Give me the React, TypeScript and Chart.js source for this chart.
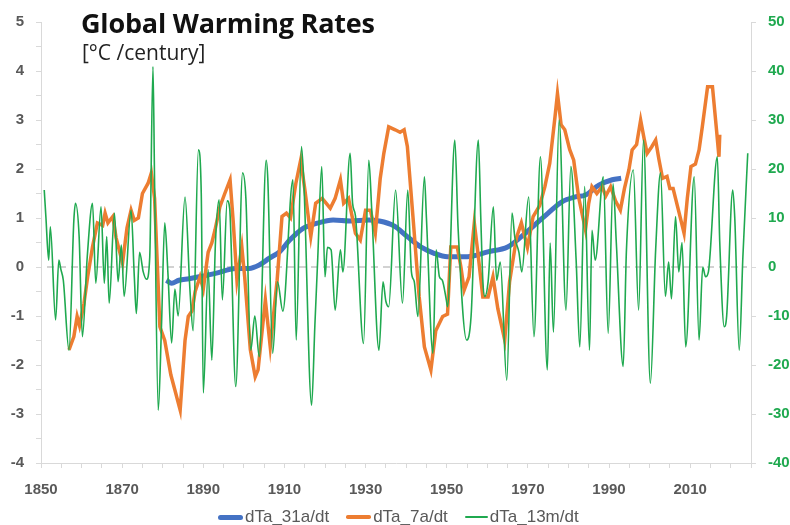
import React, { useEffect, useRef } from "react";
import { Chart, registerables } from "chart.js";

Chart.register(...registerables);

// dTa_13m/dt (right axis) – turning points
const greenYears = [
  1850.8, 1851.2, 1851.9, 1852.3, 1853.6, 1854.4, 1854.9, 1855.5, 1856.9, 1858.1,
  1858.5, 1859.4, 1860.2, 1861.4, 1862.7, 1863.5, 1864.8, 1865.6, 1866.2, 1866.8,
  1868.1, 1869.0, 1869.8, 1870.5, 1872.2, 1873.0, 1873.5, 1874.3, 1875.2, 1876.0,
  1876.8, 1877.6, 1878.0, 1878.9, 1879.7, 1880.5, 1881.3, 1882.2, 1883.0, 1883.8,
  1885.5, 1886.7, 1887.5, 1888.8, 1889.5, 1890.0, 1891.2, 1892.1, 1893.0, 1893.9,
  1894.7, 1895.9, 1896.5, 1898.0, 1899.7, 1900.5, 1901.7, 1902.7, 1903.8, 1905.5,
  1905.9, 1907.1, 1908.3, 1909.6, 1912.1, 1912.9, 1914.2, 1914.8, 1916.7, 1917.5,
  1918.2, 1919.2, 1920.0, 1920.6, 1921.5, 1922.5, 1923.8, 1924.4, 1926.2, 1926.8,
  1927.5, 1929.5, 1930.8, 1931.5, 1933.3, 1934.3, 1935.0, 1935.7, 1937.4, 1939.1,
  1940.4, 1941.3, 1942.0, 1942.9, 1944.5, 1945.0, 1946.6, 1947.4, 1948.2, 1948.9,
  1949.9, 1950.2, 1952.0, 1952.8, 1954.9, 1956.0, 1957.8, 1958.4, 1958.9, 1959.4,
  1960.2, 1961.5, 1962.3, 1963.2, 1964.8, 1966.1, 1966.8, 1967.8, 1968.5, 1970.2,
  1971.5, 1973.1, 1974.8, 1975.5, 1976.3, 1977.7, 1979.4, 1980.6, 1981.9, 1982.8,
  1984.0, 1985.2, 1985.8, 1986.6, 1988.6, 1989.8, 1991.0, 1991.8, 1993.5, 1994.3,
  1996.0, 1997.3, 1998.5, 2000.2, 2001.5, 2002.7, 2003.9, 2004.7, 2005.4, 2006.4,
  2007.2, 2008.0, 2008.9, 2011.0, 2012.2, 2013.1, 2013.8, 2014.5, 2016.7, 2017.3,
  2018.4, 2019.0, 2020.5, 2021.0, 2022.1, 2023.0, 2024.2,
];
const greenValues = [
  15.7, 10.3, 1.4, 8.2, -10.8, 1.4, -0.5, -2.7, -17.0, 9.6,
  13.0, 6.2, -14.2, 2.1, 13.0, -3.3, 12.3, -3.3, 6.2, -7.4,
  11.0, -3.0, 4.5, -6.0, 11.6, -2.0, -9.5, 3.0, -1.0, -2.5,
  2.0, 40.9, 17.0, -29.2, -12.0, 9.0, -1.5, -15.5, -4.5, -10.0,
  14.3, -4.5, -13.0, 23.9, 15.0, -25.7, -0.5, -19.0, 5.0, 13.7,
  -6.7, 13.5, 12.0, -24.4, 19.2, 14.0, -17.0, -10.0, -18.3, 21.8,
  18.0, -17.6, -3.0, -9.0, 17.8, -14.9, 24.6, 17.0, -28.2, -12.0,
  1.5, 20.5, -2.0, 4.0, 3.5, -8.8, 3.5, -1.0, 23.2, 13.0,
  10.5, -15.6, 21.8, 12.0, -17.0, -3.0, -7.0, -8.1, 15.7, -7.4,
  15.7, -1.0, -3.0, -10.1, 18.4, 10.0, -17.6, 3.5, -2.0, -2.7,
  -6.7, -8.1, 25.9, 8.0, -14.9, -10.1, 25.9, 10.0, -2.7, -6.0,
  -3.0, 12.3, -2.7, 1.0, -23.1, 11.0, 6.0, 3.0, -1.0, 14.3,
  -14.2, 22.5, -21.0, 4.9, -13.3, 30.0, -8.8, 20.5, 1.4, -16.3,
  16.4, -17.0, 7.5, 1.4, 18.4, -13.5, 17.0, 5.0, -20.3, 3.5,
  19.8, -8.8, 25.9, -23.7, 3.5, 19.2, -6.0, 1.0, -6.5, 10.3,
  -1.0, 5.0, -16.3, 18.4, -14.9, 0.0, -2.0, -1.0, 22.5, 5.0,
  -12.2, -10.0, 15.7, 10.0, -17.0, 2.1, 23.2,
];

// dTa_7a/dt (left axis)
const orangeYears = [
  1856.9, 1858.1, 1858.9, 1859.5, 1860.6, 1861.5, 1862.7, 1863.9, 1865.2, 1865.8,
  1866.5, 1867.7, 1868.5, 1870.1, 1871.2, 1872.2, 1873.0, 1874.0, 1875.0, 1876.4,
  1877.2, 1878.0, 1879.3, 1880.5, 1882.0, 1883.0, 1884.3, 1885.5, 1886.3, 1887.2,
  1888.0, 1889.2, 1890.0, 1891.2, 1892.1, 1892.9, 1894.1, 1895.3, 1896.6, 1897.4,
  1898.3, 1899.5, 1900.2, 1901.6, 1902.8, 1903.5, 1905.3, 1906.5, 1908.2, 1909.4,
  1910.5, 1911.5, 1912.8, 1914.0, 1915.0, 1916.5, 1917.7, 1919.3, 1921.3, 1922.5,
  1923.8, 1924.6, 1925.8, 1927.5, 1928.7, 1930.0, 1931.2, 1932.4, 1933.6, 1934.5,
  1935.7, 1937.3, 1938.5, 1939.5, 1940.3, 1941.8, 1943.2, 1944.5, 1946.1, 1947.3,
  1949.0, 1950.2, 1951.0, 1952.6, 1953.5, 1954.3, 1955.5, 1956.8, 1957.6, 1958.9,
  1960.2, 1961.4, 1962.6, 1964.3, 1965.5, 1967.2, 1968.4, 1969.9, 1971.3, 1972.9,
  1974.2, 1975.4, 1976.7, 1977.3, 1978.2, 1979.1, 1980.3, 1981.3, 1982.5, 1984.2,
  1985.0, 1985.8, 1987.0, 1988.3, 1989.2, 1990.4, 1991.6, 1992.8, 1993.8, 1994.9,
  1995.7, 1996.8, 1997.8, 1998.7, 1999.4, 2000.5, 2001.5, 2002.3, 2003.2, 2004.3,
  2005.0, 2005.8, 2007.3, 2008.5, 2009.3, 2010.2, 2011.3, 2012.2, 2013.0, 2014.3,
  2015.5, 2016.5, 2017.1, 2017.3,
];
const orangeValues = [
  -1.69, -1.42, -1.01, -1.2, -0.74, -0.2, 0.41, 0.9, 0.85, 1.1,
  0.9, 1.03, 0.6, 0.08, 0.8, 1.16, 0.95, 1.0, 1.5, 1.71,
  1.92, 1.4, -1.22, -1.5, -2.2, -2.51, -2.92, -1.5, -1.01, -0.9,
  -0.5, -0.2, -0.45, 0.3, 0.49, 0.76, 1.23, 1.5, 1.78, 0.9,
  -0.27, 0.41, -0.2, -1.69, -2.24, -2.1, -0.67, -1.63, -0.27, 1.03,
  1.1, 1.0, 1.7, 2.18, 1.6, 0.62, 1.3, 1.4, 1.2, 1.4,
  1.78, 1.3, 1.4, 0.69, 0.55, 1.16, 1.16, 0.69, 1.8, 2.32,
  2.86, 2.8, 2.75, 2.8, 2.46, 0.9, -0.6, -1.63, -2.1, -1.3,
  -1.01, -0.96, 0.41, 0.41, 0.0, -0.47, -0.2, 0.9, 0.35, -0.61,
  -0.61, -0.2, -0.85, -1.49, -0.3, 0.6, 0.9, 0.4, 1.03, 1.25,
  1.64, 2.12, 3.07, 3.54, 2.9, 2.8, 2.4, 2.18, 1.43, 0.76,
  1.3, 1.64, 1.5, 1.64, 1.45, 1.64, 1.35, 1.16, 1.6, 1.98,
  2.39, 2.5, 3.0, 2.6, 2.32, 2.45, 2.59, 2.2, 1.81, 1.85,
  1.6, 1.6, 1.1, 0.69, 1.4, 2.05, 2.1, 2.39, 2.86, 3.68,
  3.68, 2.8, 2.25, 2.7,
];

// dTa_31a/dt (left axis)
const blueYears = [
  1880.9, 1882.2, 1884.0, 1886.5, 1889.0, 1893.0, 1898.0, 1901.3, 1903.8, 1906.3,
  1908.8, 1911.3, 1914.6, 1917.9, 1922.0, 1926.2, 1930.8, 1933.3, 1937.0, 1940.3,
  1943.6, 1946.9, 1950.2, 1955.1, 1960.1, 1965.0, 1968.4, 1971.7, 1975.0, 1978.4,
  1981.7, 1984.2, 1987.5, 1990.8, 1993.0,
];
const blueValues = [
  -0.27, -0.33, -0.27, -0.24, -0.2, -0.13, -0.03, -0.03, 0.04, 0.18,
  0.31, 0.55, 0.79, 0.89, 0.96, 0.94, 0.96, 0.94, 0.84, 0.62,
  0.41, 0.28, 0.21, 0.21, 0.31, 0.41, 0.62, 0.86, 1.1, 1.33,
  1.43, 1.47, 1.67, 1.78, 1.81,
];

const seriesLabels = ["dTa_31a/dt", "dTa_7a/dt", "dTa_13m/dt"];
const xLabelYears = [1850, 1870, 1890, 1910, 1930, 1950, 1970, 1990, 2010];

const BLUE = "#4472C4";
const ORANGE = "#ED7D31";
const GREEN = "#1FA94F";
const GREY_TXT = "#595959";
const AXIS = "#d9d9d9";
const FONT = "'Liberation Sans', Arial, sans-serif";

const toPts = (xs: number[], ys: number[]) => xs.map((x, i) => ({ x, y: ys[i] }));

const zeroLine = {
  id: "zeroLine",
  beforeDatasetsDraw(chart: any) {
    const y = chart.scales.y.getPixelForValue(0);
    const { left, right } = chart.chartArea;
    const ctx = chart.ctx;
    ctx.save();
    ctx.strokeStyle = "#c4c4c4";
    ctx.lineWidth = 1.5;
    ctx.setLineDash([7, 5]);
    ctx.beginPath();
    ctx.moveTo(left + 6, y);
    ctx.lineTo(right - 4, y);
    ctx.stroke();
    ctx.restore();
  },
};

const legendItems = [
  { label: seriesLabels[0], color: BLUE, h: 5, w: 25 },
  { label: seriesLabels[1], color: ORANGE, h: 3.5, w: 25 },
  { label: seriesLabels[2], color: GREEN, h: 2, w: 23 },
];

export default function App() {
  const ref = useRef<HTMLCanvasElement | null>(null);

  useEffect(() => {
    document.body.style.margin = "0";
    const canvas = ref.current!;
    const chart = new Chart(canvas, {
      type: "line",
      data: {
        datasets: [
          {
            label: seriesLabels[0],
            data: toPts(blueYears, blueValues),
            borderColor: BLUE,
            backgroundColor: BLUE,
            borderWidth: 5,
            pointRadius: 0,
            cubicInterpolationMode: "monotone",
            yAxisID: "y",
            order: 2,
          },
          {
            label: seriesLabels[1],
            data: toPts(orangeYears, orangeValues),
            borderColor: ORANGE,
            backgroundColor: ORANGE,
            borderWidth: 3.5,
            pointRadius: 0,
            tension: 0,
            yAxisID: "y",
            order: 1,
          },
          {
            label: seriesLabels[2],
            data: toPts(greenYears, greenValues),
            borderColor: GREEN,
            backgroundColor: GREEN,
            borderWidth: 1.6,
            pointRadius: 0,
            cubicInterpolationMode: "monotone",
            yAxisID: "y2",
            order: 0,
          },
        ],
      },
      options: {
        responsive: false,
        animation: false,
        layout: { padding: { top: 22, bottom: 0, left: 0, right: 0 } },
        plugins: {
          tooltip: { enabled: false },
          title: { display: false },
          legend: { display: false },
        },
        scales: {
          x: {
            type: "linear",
            min: 1850,
            max: 2025,
            afterFit: (s: any) => {
              s.height = 62;
            },
            ticks: {
              stepSize: 5,
              autoSkip: false,
              maxRotation: 0,
              padding: 13,
              color: GREY_TXT,
              font: { family: FONT, size: 15, weight: "bold" },
              callback: (v: any) => (xLabelYears.includes(Number(v)) ? String(v) : ""),
            },
            grid: { drawOnChartArea: false, drawTicks: true, tickLength: 5, color: AXIS },
            border: { color: AXIS, width: 1 },
          },
          y: {
            position: "left",
            min: -4,
            max: 5,
            afterFit: (s: any) => {
              s.width = 41;
            },
            ticks: {
              stepSize: 0.5,
              autoSkip: false,
              padding: 12,
              color: GREY_TXT,
              font: { family: FONT, size: 15, weight: "bold" },
              callback: (v: any) => (Number.isInteger(Number(v)) ? String(v) : ""),
            },
            grid: { drawOnChartArea: false, drawTicks: true, tickLength: 5, color: AXIS },
            border: { color: AXIS, width: 1 },
          },
          y2: {
            position: "right",
            min: -40,
            max: 50,
            afterFit: (s: any) => {
              s.width = 39;
            },
            ticks: {
              stepSize: 10,
              autoSkip: false,
              padding: 12,
              color: GREEN,
              font: { family: FONT, size: 15, weight: "bold" },
            },
            grid: { drawOnChartArea: false, drawTicks: true, tickLength: 5, color: AXIS },
            border: { color: AXIS, width: 1 },
          },
        },
      },
      plugins: [zeroLine],
    });
    return () => chart.destroy();
  }, []);

  return (
    <div style={{ position: "relative", width: 790, height: 525, overflow: "hidden" }}>
      <canvas ref={ref} width={790} height={525} style={{ display: "block" }} />
      <div
        style={{
          position: "absolute",
          left: 81,
          top: 9,
          fontFamily: "'Open Sans', sans-serif",
          fontWeight: 700,
          fontSize: 27,
          lineHeight: "27px",
          letterSpacing: "-0.2px",
          color: "#111",
          whiteSpace: "nowrap",
        }}
      >
        Global Warming Rates
      </div>
      <div
        style={{
          position: "absolute",
          left: 82,
          top: 42,
          fontFamily: "'Open Sans', sans-serif",
          fontSize: 21,
          lineHeight: "21px",
          color: "#222",
          whiteSpace: "nowrap",
        }}
      >
        [°C /century]
      </div>
      <div
        style={{
          position: "absolute",
          left: 218,
          top: 506,
          height: 22,
          display: "flex",
          alignItems: "center",
          fontFamily: FONT,
          fontSize: 17,
          lineHeight: "22px",
          color: GREY_TXT,
          whiteSpace: "nowrap",
        }}
      >
        {legendItems.map((it, i) => (
          <div key={it.label} style={{ display: "flex", alignItems: "center", marginLeft: i === 0 ? 0 : 17 }}>
            <span
              style={{
                display: "inline-block",
                width: it.w,
                height: it.h,
                background: it.color,
                borderRadius: it.h / 2,
                marginRight: 2,
              }}
            />
            <span>{it.label}</span>
          </div>
        ))}
      </div>
    </div>
  );
}
